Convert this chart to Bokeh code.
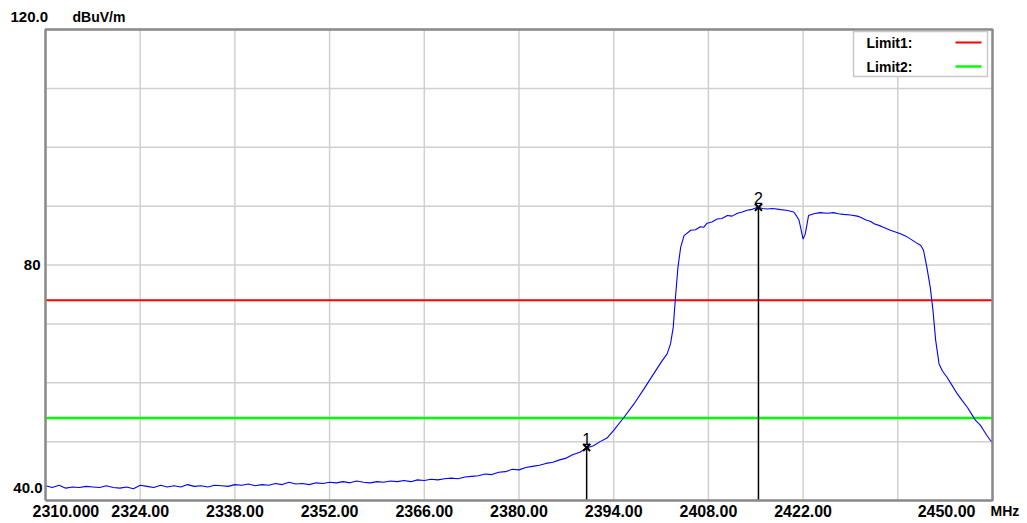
from bokeh.plotting import figure
from bokeh.models import Range1d, ColumnDataSource
from bokeh.core.properties import value
from bokeh.embed import file_html
from bokeh.resources import INLINE

# ---------------- data ----------------
freq_floor = [2310, 2311, 2312, 2313, 2314, 2315, 2316, 2317, 2318, 2319,
              2320, 2321, 2322, 2323, 2324, 2325, 2326, 2327, 2328, 2329,
              2330, 2331, 2332, 2333, 2334, 2335, 2336, 2337, 2338, 2339,
              2340, 2341, 2342, 2343, 2344, 2345, 2346, 2347, 2348, 2349,
              2350, 2351, 2352, 2353, 2354, 2355, 2356, 2357, 2358, 2359,
              2360, 2361, 2362, 2363, 2364, 2365, 2366, 2367, 2368, 2369,
              2370, 2371, 2372, 2373, 2374, 2375, 2376, 2377, 2378, 2379,
              2380, 2381, 2382, 2383, 2384, 2385, 2386, 2387, 2388, 2389,
              2390, 2391, 2392]
level_floor = [42.5, 42.2, 42.6, 42.1, 42.3, 42.2, 42.4, 42.3, 42.2, 42.5,
               42.2, 42.1, 42.3, 42.0, 42.6, 42.4, 42.2, 42.6, 42.3, 42.5,
               42.3, 42.7, 42.4, 42.5, 42.3, 42.6, 42.5, 42.4, 42.7, 42.6,
               42.8, 42.5, 42.7, 42.6, 42.9, 42.7, 43.1, 42.8, 42.9, 42.7,
               43.0, 42.9, 43.1, 43.0, 43.2, 43.0, 43.3, 43.1, 43.0, 43.2,
               43.1, 43.3, 43.2, 43.4, 43.2, 43.5, 43.4, 43.6, 43.5, 43.7,
               43.8, 43.7, 44.0, 44.1, 44.2, 44.5, 44.4, 44.8, 44.9, 45.3,
               45.2, 45.6, 45.8, 46.0, 46.3, 46.5, 46.9, 47.2, 47.8, 48.2,
               48.9, 49.3, 50.0]
freq_band = [2393.0, 2394.0, 2395.5, 2397.0, 2398.5, 2399.9, 2401.2, 2401.9, 2402.4, 2402.8,
             2403.1, 2403.5, 2403.9, 2404.4, 2405.4, 2406.1, 2406.8, 2407.3, 2407.8, 2408.5,
             2409.3, 2410.0, 2410.8, 2411.5, 2412.3, 2413.0, 2413.7, 2414.3, 2415.0, 2415.4,
             2416.0, 2416.7, 2417.5, 2418.7, 2419.5, 2420.6, 2421.0, 2421.4, 2421.7, 2422.0,
             2422.3, 2422.5, 2422.8, 2423.6, 2424.5, 2425.6, 2426.5, 2427.2, 2428.0, 2429.0,
             2430.0, 2430.5, 2431.2, 2432.0, 2432.5, 2433.5, 2434.9, 2436.4, 2437.2, 2437.9,
             2438.7, 2439.4, 2439.8, 2440.3, 2440.8, 2441.2, 2441.6, 2442.1, 2442.6, 2443.3,
             2444.0, 2444.8, 2445.5, 2446.3, 2447.0, 2447.5, 2448.2, 2448.7, 2449.2, 2449.7,
             2450.0]
level_band = [50.6, 51.9, 54.1, 56.4, 59.0, 61.5, 63.8, 64.9, 66.6, 69.4,
              74.0, 79.6, 83.0, 85.0, 85.9, 86.0, 86.5, 86.4, 87.1, 87.3,
              87.8, 87.9, 88.4, 88.3, 88.8, 89.0, 89.3, 89.4, 89.7, 89.8,
              89.6, 89.5, 89.6, 89.4, 89.3, 89.0, 88.4, 87.6, 86.0, 84.4,
              85.2, 86.4, 88.4, 88.7, 88.9, 88.8, 88.9, 88.7, 88.6, 88.5,
              88.3, 88.1, 87.7, 87.4, 87.0, 86.6, 85.9, 85.3, 84.9, 84.4,
              83.8, 83.3, 82.5, 79.6, 76.2, 72.3, 67.2, 63.2, 62.0, 60.9,
              59.6, 58.1, 57.0, 55.8, 54.5, 53.6, 52.8, 51.9, 51.0, 50.2,
              49.9]

marker_ids = ["1", "2"]
marker_freq = [2390.0, 2415.4]
marker_level = [49.0, 89.8]

limit_names = ["Limit1:", "Limit2:"]
limit_levels = [74.0, 54.0]
limit_colors = ["#ff0000", "#00ff00"]

x_ticks = [2310, 2324, 2338, 2352, 2366, 2380, 2394, 2408, 2422, 2436, 2450]
x_tick_labels = ["2310.000", "2324.00", "2338.00", "2352.00", "2366.00", "2380.00",
                 "2394.00", "2408.00", "2422.00", "", "2450.00"]
y_ticks = [40, 50, 60, 70, 80, 90, 100, 110, 120]
y_tick_labels = ["40.0", "", "", "", "80", "", "", "", "120.0"]
x_unit = "MHz"
y_unit = "dBuV/m"

X0, X1, Y0, Y1 = 2310, 2450, 40, 120

# ---------------- layout (pixels) ----------------
W, H = 1020, 520
FL, FR, FT, FB = 45, 992, 29, 500          # plot frame edges in canvas pixels
sx = (FR - FL) / (X1 - X0)
sy = (FB - FT) / (Y1 - Y0)
def px2x(px): return X0 + (px - FL) / sx
def py2y(py): return Y0 + (FB - py) / sy

p = figure(width=W, height=H,
           x_range=Range1d(px2x(0), px2x(W)), y_range=Range1d(py2y(H), py2y(0)),
           x_axis_type=None, y_axis_type=None, output_backend="svg",
           toolbar_location=None, min_border=0)
p.background_fill_color = "white"
p.border_fill_color = "white"
p.outline_line_color = None
p.xgrid.visible = False
p.ygrid.visible = False

FONT = value("Liberation Sans")

# grid
p.segment(x0=x_ticks, y0=[Y0] * len(x_ticks), x1=x_ticks, y1=[Y1] * len(x_ticks),
          line_color="#d0d0d0", line_width=1.5)
p.segment(x0=[X0] * len(y_ticks), y0=y_ticks, x1=[X1] * len(y_ticks), y1=y_ticks,
          line_color="#d0d0d0", line_width=1.5)

# limit lines
for lv, col in zip(limit_levels, limit_colors):
    p.line([X0, X1], [lv, lv], line_color=col, line_width=2.5 if col == "#00ff00" else 2)

# trace
p.line(freq_floor + freq_band, level_floor + level_band, line_color="#0000ff", line_width=1.1)

# markers
msrc = ColumnDataSource(dict(f=marker_freq, v=marker_level, base=[Y0] * len(marker_freq), t=marker_ids))
p.segment(x0="f", y0="base", x1="f", y1="v", source=msrc, line_color="black", line_width=1.5)
p.scatter(x="f", y="v", source=msrc, marker="x", size=10, line_color="black", line_width=2)
p.text(x="f", y="v", text="t", source=msrc, text_align="center", text_baseline="bottom",
       y_offset=-3, text_font=FONT, text_font_size="16px", text_color="black")

# frame outline
p.line([X0, X1, X1, X0, X0], [Y0, Y0, Y1, Y1, Y0], line_color="#8a8a8a", line_width=2.5)

# legend box
p.quad(left=[px2x(853)], right=[px2x(987)], bottom=[py2y(76)], top=[py2y(31)],
       fill_color="white", line_color="#c8c8c8", line_width=1.5)
legend_py = [42, 66]
for name, col, ly in zip(limit_names, limit_colors, legend_py):
    p.text(x=[px2x(866)], y=[py2y(ly)], text=[name], text_align="left", text_baseline="middle",
           text_font=FONT, text_font_style="bold", text_font_size="14px", text_color="black")
    p.segment(x0=[px2x(955)], y0=[py2y(ly)], x1=[px2x(981)], y1=[py2y(ly)], line_color=col,
              line_width=2.5 if col == "#00ff00" else 2)

# x tick labels
lab_y = py2y(510)
for xv, lab in zip(x_ticks, x_tick_labels):
    if not lab:
        continue
    if xv == X0:
        xx, al = px2x(32), "left"
    elif xv == X1:
        xx, al = px2x(975), "right"
    else:
        xx, al = xv, "center"
    p.text(x=[xx], y=[lab_y], text=[lab], text_align=al, text_baseline="middle",
           text_font=FONT, text_font_style="bold", text_font_size="16px", text_color="black")
p.text(x=[px2x(990)], y=[lab_y], text=[x_unit], text_align="left", text_baseline="middle",
       text_font=FONT, text_font_style="bold", text_font_size="14px", text_color="black")

# y tick labels
for yv, lab in zip(y_ticks, y_tick_labels):
    if not lab:
        continue
    if yv == Y1:
        xx, yy, al = px2x(10), py2y(16), "left"
    elif yv == Y0:
        xx, yy, al = px2x(42), py2y(487), "right"
    else:
        xx, yy, al = px2x(40), yv, "right"
    p.text(x=[xx], y=[yy], text=[lab], text_align=al, text_baseline="middle",
           text_font=FONT, text_font_style="bold", text_font_size="15px", text_color="black")
p.text(x=[px2x(72)], y=[py2y(16)], text=[y_unit], text_align="left", text_baseline="middle",
       text_font=FONT, text_font_style="bold", text_font_size="14px", text_color="black")

open("out.html", "w").write(file_html(p, INLINE))
